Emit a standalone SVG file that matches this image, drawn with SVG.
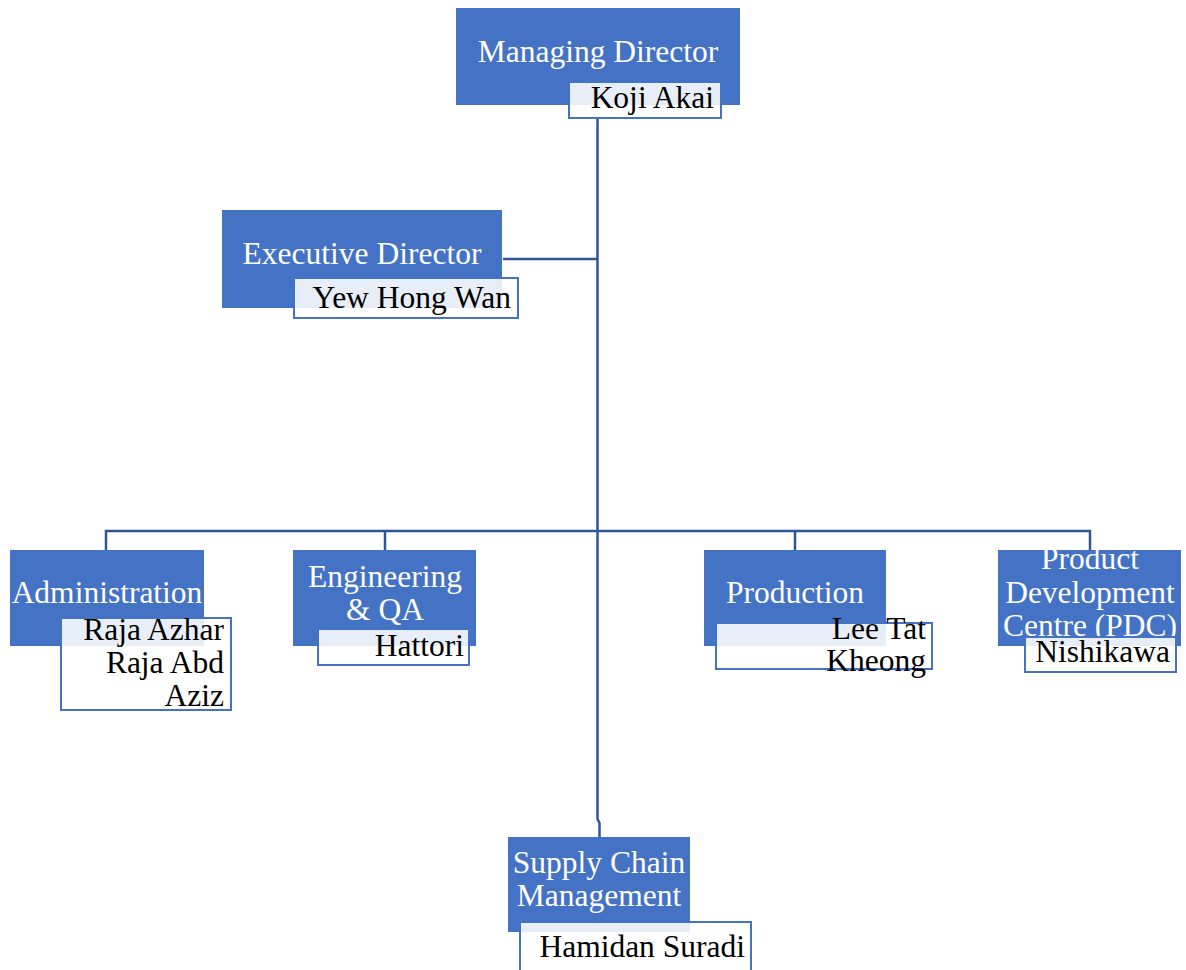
<svg xmlns="http://www.w3.org/2000/svg" width="1186" height="970" viewBox="0 0 1186 970">
<style>
.box{fill:#4472C4;}
.name{fill:#FFFFFF;fill-opacity:0.88;stroke:#4472C4;stroke-width:2;}
.t{font-family:"Liberation Serif","Times New Roman",serif;font-size:31.5px;fill:#FFFFFF;text-anchor:middle;}
.n{font-family:"Liberation Serif","Times New Roman",serif;font-size:31.5px;fill:#000000;text-anchor:end;}
.c{fill:none;stroke:#2F5597;stroke-width:2.5;}
</style>
<defs>
<clipPath id="pdcclip"><rect x="998" y="550" width="184" height="86"/></clipPath>
</defs>
<g id="connectors">
<path class="c" d="M597.5,118 V819 L599.5,823 V837"/>
<path class="c" d="M503,259 H597.5"/>
<path class="c" d="M106,551 V531 H1090 V551"/>
<path class="c" d="M385,531 V551"/>
<path class="c" d="M795,531 V551"/>
</g>
<g id="managing-director">
<rect class="box" x="456" y="8" width="284" height="97"/>
<text class="t" x="598" y="62">Managing Director</text>
<rect class="name" x="569" y="82" width="152" height="36"/>
<text class="n" x="714" y="108">Koji Akai</text>
</g>
<g id="executive-director">
<rect class="box" x="222" y="210" width="280" height="98"/>
<text class="t" x="362" y="264">Executive Director</text>
<rect class="name" x="294" y="278" width="224" height="40"/>
<text class="n" x="511" y="308">Yew Hong Wan</text>
</g>
<g id="administration">
<rect class="box" x="10" y="550" width="194" height="96"/>
<text class="t" x="107" y="603">Administration</text>
<rect class="name" x="61" y="618" width="170" height="92"/>
<text class="n" x="224" y="640">Raja Azhar</text>
<text class="n" x="224" y="673">Raja Abd</text>
<text class="n" x="224" y="706">Aziz</text>
</g>
<g id="engineering-qa">
<rect class="box" x="293" y="550" width="183" height="96"/>
<text class="t" x="385" y="587">Engineering</text>
<text class="t" x="385" y="620">&amp; QA</text>
<rect class="name" x="318" y="629" width="151" height="36"/>
<text class="n" x="464" y="656">Hattori</text>
</g>
<g id="production">
<rect class="box" x="704" y="550" width="182" height="96"/>
<text class="t" x="795" y="603">Production</text>
<rect class="name" x="716" y="623" width="216" height="46"/>
<text class="n" x="926" y="639">Lee Tat</text>
<text class="n" x="926" y="671">Kheong</text>
</g>
<g id="pdc">
<rect class="box" x="998" y="550" width="183" height="96"/>
<g clip-path="url(#pdcclip)">
<text class="t" x="1090" y="569">Product</text>
<text class="t" x="1090" y="603">Development</text>
<text class="t" x="1090" y="636">Centre (PDC)</text>
</g>
<rect class="name" x="1025" y="637" width="151" height="35"/>
<text class="n" x="1170" y="662">Nishikawa</text>
</g>
<g id="supply-chain">
<rect class="box" x="508" y="837" width="182" height="95"/>
<text class="t" x="599" y="873">Supply Chain</text>
<text class="t" x="599" y="906">Management</text>
<rect class="name" x="520" y="922" width="231" height="60"/>
<text class="n" x="745" y="957">Hamidan Suradi</text>
</g>
</svg>
